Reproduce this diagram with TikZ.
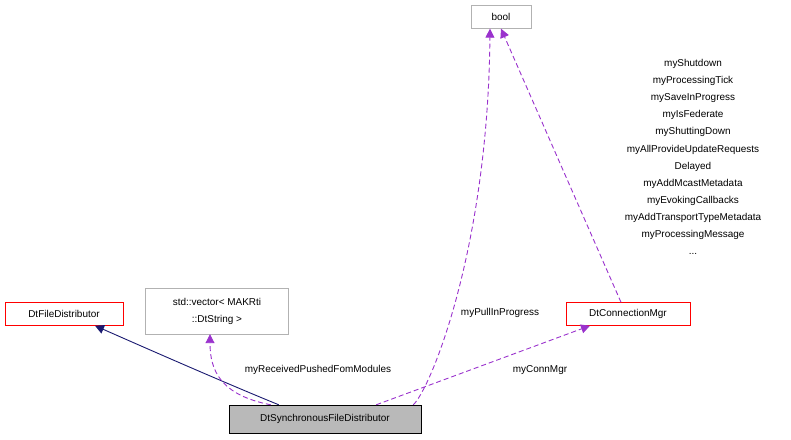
\documentclass[tikz,border=0pt]{standalone}
\usepackage{fontspec}
\setmainfont{Liberation Sans}
\usetikzlibrary{arrows.meta}
\definecolor{dpurple}{HTML}{9A32CD}
\definecolor{inavy}{HTML}{191970}
\begin{document}
\begin{tikzpicture}[x=1bp,y=-1bp,font=\fontsize{10}{11}\selectfont,
  box/.style={draw=#1,fill=white,inner sep=3bp,minimum height=23bp,align=center},
  dep/.style={draw=dpurple,line width=0.9bp,dash pattern=on 5bp off 3bp,-{Triangle[length=9bp,width=9bp,fill=dpurple]}},
  inh/.style={draw=inavy,line width=0.9bp,-{Triangle[length=9bp,width=9bp,fill=inavy]}},
  lbl/.style={inner sep=0pt,align=center}]
\useasboundingbox (0,0) rectangle (791,440);
\node[box=gray!60,minimum width=60bp] (bool) at (501,17) {bool};
\node[box=red,minimum width=118bp] (fd) at (64,314) {DtFileDistributor};
\node[box=gray!60,minimum width=143bp,minimum height=46bp,font=\fontsize{10}{17}\selectfont] (vec) at (217,311) {std::vector\textless{} MAKRti\\::DtString \textgreater};
\node[box=red,minimum width=124bp] (cm) at (628,314) {DtConnectionMgr};
\node[box=black,fill=gray!55,minimum width=192bp,minimum height=28bp] (sync) at (325,419) {DtSynchronousFileDistributor};
\draw[inh] (sync.north west) ++(50,0) coordinate (s1) .. controls (230,385) and (150,350) .. (fd.south -| 95,0);
\draw[dep] (sync.north west) ++(42,0) coordinate (s2) .. controls (220,395) and (210,370) .. (vec.south -| 210,0);
\draw[dep] (sync.north east) ++(-8,0) coordinate (s3) .. controls (430,390) and (488,250) .. (bool.south -| 490,0);
\draw[dep] (sync.north east) ++(-45,0) coordinate (s4) -- (cm.south -| 590,0);
\draw[dep] (cm.north -| 621,0) -- (bool.south -| 501,0);
\node[lbl] (l1) at (318,370) {myReceivedPushedFomModules};
\node[lbl] (l2) at (500,313) {myPullInProgress};
\node[lbl] (l3) at (540,370) {myConnMgr};
\node[lbl,font=\fontsize{10}{17.2}\selectfont,anchor=north] (l4) at (693,59) {myShutdown\\myProcessingTick\\mySaveInProgress\\myIsFederate\\myShuttingDown\\myAllProvideUpdateRequests\\Delayed\\myAddMcastMetadata\\myEvokingCallbacks\\myAddTransportTypeMetadata\\myProcessingMessage\\...};
\end{tikzpicture}
\end{document}
